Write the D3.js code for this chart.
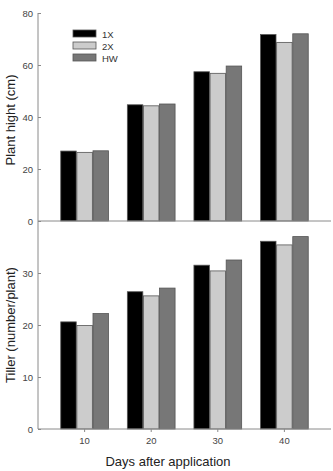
<!DOCTYPE html>
<html>
<head>
<meta charset="utf-8">
<script src="https://cdn.jsdelivr.net/npm/d3@7"></script>
<style>
  body { margin: 0; background: #fff; }
  svg { display: block; font-family: "Liberation Sans", Arial, sans-serif; }
</style>
</head>
<body>
<svg id="chart" width="333" height="471"></svg>
<script>
const days = ["10", "20", "30", "40"];
const series = ["1X", "2X", "HW"];
const colors = ["#000000", "#cccccc", "#777777"];

// plant height (cm) for 1X, 2X, HW
const height1X = [26.9, 44.7, 57.4, 71.7];
const height2X = [26.4, 44.3, 56.8, 68.7];
const heightHW = [27.0, 45.0, 59.6, 72.0];

// tillers (number/plant)
const tiller1X = [20.6, 26.4, 31.5, 36.1];
const tiller2X = [19.9, 25.6, 30.4, 35.4];
const tillerHW = [22.2, 27.1, 32.5, 37.0];

const heightTicks = [0, 20, 40, 60, 80];
const tillerTicks = [0, 10, 20, 30];

const svg = d3.select("#chart");
const axisColor = "#8a8a8a";
const left = 38, right = 331;

const x0 = d3.scaleBand().domain(days).range([left, right])
    .paddingInner(0.264).paddingOuter(0.332);
const x1 = d3.scaleBand().domain(series).range([0, x0.bandwidth()]).padding(0.04);

const yTop = d3.scaleLinear().domain([0, 80]).range([221, 13]);
const yBot = d3.scaleLinear().domain([0, 40]).range([429, 221]);

const panels = [
    { y: yTop, ticks: heightTicks, data: [height1X, height2X, heightHW] },
    { y: yBot, ticks: tillerTicks, data: [tiller1X, tiller2X, tillerHW] }
];

panels.forEach(p => {
    const rows = days.map((d, i) => ({ day: d, vals: series.map((s, j) => ({ s, j, v: p.data[j][i] })) }));

    svg.append("g").selectAll("g")
        .data(rows)
        .enter().append("g")
        .attr("transform", d => `translate(${x0(d.day)},0)`)
        .selectAll("rect")
        .data(d => d.vals)
        .enter().append("rect")
        .attr("x", d => x1(d.s))
        .attr("width", x1.bandwidth())
        .attr("y", d => p.y(d.v))
        .attr("height", d => p.y(0) - p.y(d.v))
        .attr("fill", d => colors[d.j])
        .attr("stroke", "#555")
        .attr("stroke-width", 0.8);

    // y axis with short inward ticks
    const ax = svg.append("g")
        .attr("transform", `translate(${left},0)`)
        .call(d3.axisLeft(p.y).tickValues(p.ticks).tickSize(-3).tickPadding(5));
    ax.select(".domain").remove();
    ax.selectAll("line").attr("stroke", axisColor);
    ax.selectAll("text").attr("fill", "#444").style("font-size", "9.5px");

    // baseline
    svg.append("line")
        .attr("x1", left).attr("x2", right)
        .attr("y1", p.y(0)).attr("y2", p.y(0))
        .attr("stroke", axisColor);
});

// continuous y axis line
svg.append("line")
    .attr("x1", left).attr("x2", left)
    .attr("y1", yTop(80)).attr("y2", yBot(0))
    .attr("stroke", axisColor);

// x axis
const xa = svg.append("g")
    .attr("transform", `translate(0,${yBot(0)})`)
    .call(d3.axisBottom(x0).tickSize(3).tickPadding(5));
xa.select(".domain").remove();
xa.selectAll("line").attr("stroke", axisColor);
xa.selectAll("text").attr("fill", "#444").style("font-size", "9.5px");

// axis titles
svg.append("text")
    .attr("transform", `translate(15,${(yTop(0) + yTop(80)) / 2 + 3}) rotate(-90)`)
    .attr("text-anchor", "middle")
    .attr("fill", "#222")
    .style("font-size", "13px")
    .text("Plant hight (cm)");

svg.append("text")
    .attr("transform", `translate(15,${(yBot(0) + yBot(40)) / 2}) rotate(-90)`)
    .attr("text-anchor", "middle")
    .attr("fill", "#222")
    .style("font-size", "13px")
    .text("Tiller (number/plant)");

svg.append("text")
    .attr("x", 168)
    .attr("y", 466)
    .attr("text-anchor", "middle")
    .attr("fill", "#222")
    .style("font-size", "13px")
    .text("Days after application");

// legend
const legend = svg.append("g").attr("transform", "translate(73,30)");
const lg = legend.selectAll("g")
    .data(series)
    .enter().append("g")
    .attr("transform", (d, i) => `translate(0,${i * 12})`);
lg.append("rect")
    .attr("width", 23).attr("height", 7)
    .attr("fill", (d, i) => colors[i])
    .attr("stroke", "#555").attr("stroke-width", 0.8);
lg.append("text")
    .attr("x", 29).attr("y", 7.5)
    .attr("fill", "#333")
    .style("font-size", "9.5px")
    .text(d => d);
</script>
</body>
</html>
